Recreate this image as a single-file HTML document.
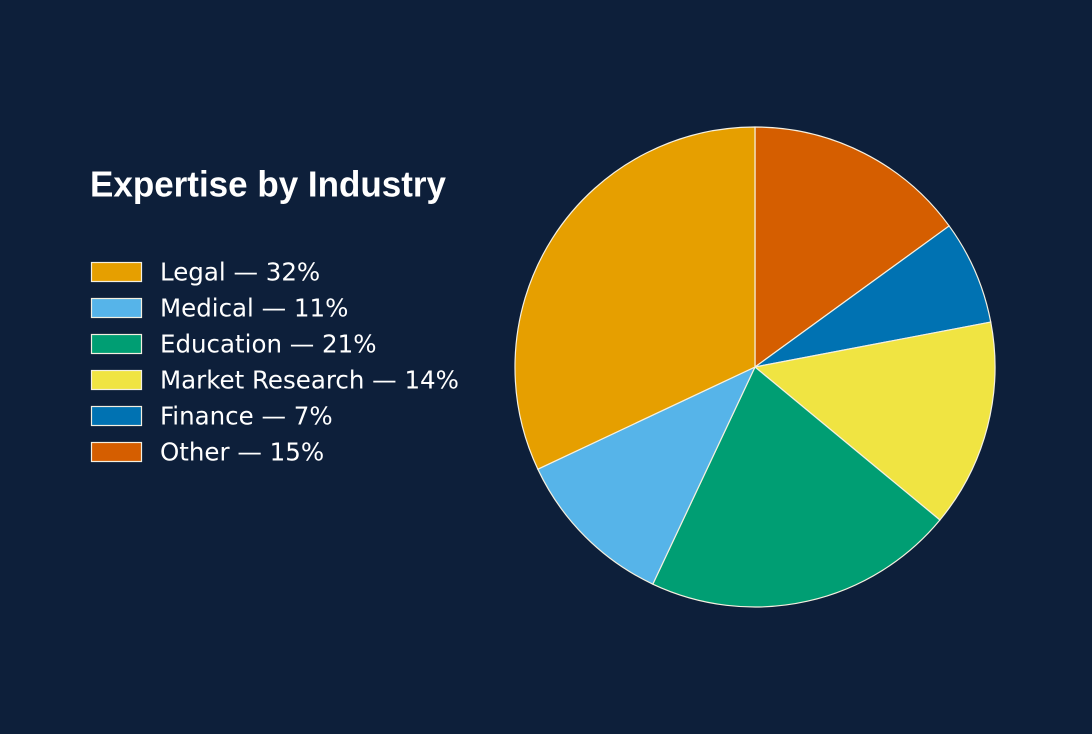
<!DOCTYPE html>
<html>
<head>
<meta charset="utf-8">
<style>
  html, body { margin:0; padding:0; background:#0d1f3a; }
  svg { display:block; }
</style>
</head>
<body>
<svg width="1092" height="734" viewBox="0 0 1092 734" xmlns="http://www.w3.org/2000/svg">
  <rect x="0" y="0" width="1092" height="734" fill="#0d1f3a"/>
  <text x="90" y="196.5" font-family="Liberation Sans, Arial, sans-serif" font-weight="bold" font-size="36" fill="#ffffff" textLength="356" lengthAdjust="spacingAndGlyphs">Expertise by Industry</text>

  <g font-family="DejaVu Sans, sans-serif" font-size="24.5" fill="#ffffff">
    <rect x="91.5" y="262.5" width="50" height="19" fill="#E69F00" stroke="#f3efe0" stroke-width="1.2"/>
    <text x="160" y="280.5">Legal — 32%</text>
    <rect x="91.5" y="298.5" width="50" height="19" fill="#56B4E9" stroke="#f3efe0" stroke-width="1.2"/>
    <text x="160" y="316.5">Medical — 11%</text>
    <rect x="91.5" y="334.5" width="50" height="19" fill="#009E73" stroke="#f3efe0" stroke-width="1.2"/>
    <text x="160" y="352.5">Education — 21%</text>
    <rect x="91.5" y="370.5" width="50" height="19" fill="#F0E442" stroke="#f3efe0" stroke-width="1.2"/>
    <text x="160" y="388.5">Market Research — 14%</text>
    <rect x="91.5" y="406.5" width="50" height="19" fill="#0072B2" stroke="#f3efe0" stroke-width="1.2"/>
    <text x="160" y="424.5">Finance — 7%</text>
    <rect x="91.5" y="442.5" width="50" height="19" fill="#D55E00" stroke="#f3efe0" stroke-width="1.2"/>
    <text x="160" y="460.5">Other — 15%</text>
  </g>

  <g stroke="#f5f0e0" stroke-width="1.2" stroke-linejoin="round">
    <path d="M755,367 L755,127 A240,240 0 0 1 949.16,225.93 Z" fill="#D55E00"/>
    <path d="M755,367 L949.16,225.93 A240,240 0 0 1 990.75,322.03 Z" fill="#0072B2"/>
    <path d="M755,367 L990.75,322.03 A240,240 0 0 1 939.92,519.98 Z" fill="#F0E442"/>
    <path d="M755,367 L939.92,519.98 A240,240 0 0 1 652.81,584.16 Z" fill="#009E73"/>
    <path d="M755,367 L652.81,584.16 A240,240 0 0 1 537.84,469.19 Z" fill="#56B4E9"/>
    <path d="M755,367 L537.84,469.19 A240,240 0 0 1 755,127 Z" fill="#E69F00"/>
  </g>
</svg>
</body>
</html>
